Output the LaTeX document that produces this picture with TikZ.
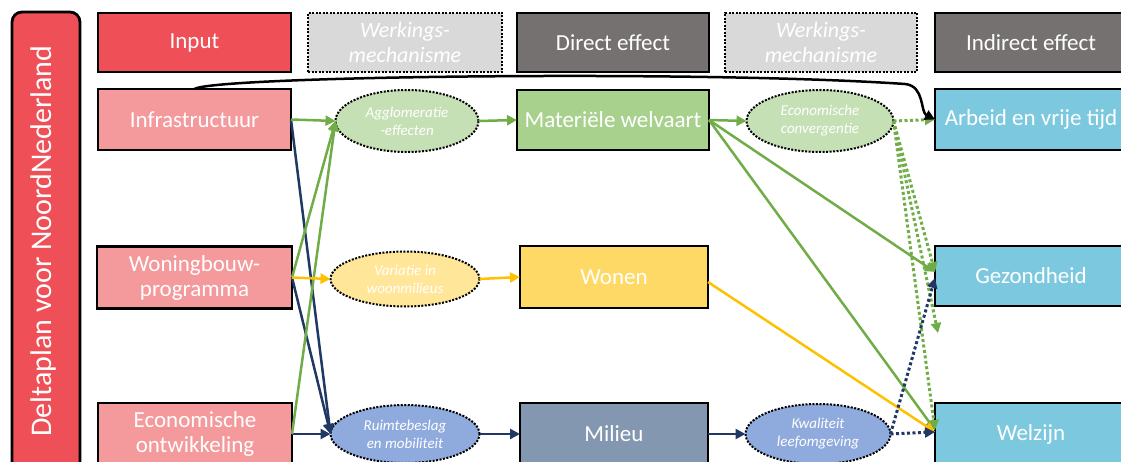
\documentclass[tikz,border=0pt]{standalone}
\usepackage{fontspec}
\setmainfont{Carlito}
\usetikzlibrary{shapes.geometric,arrows.meta}
\definecolor{inred}{HTML}{EF4F57}
\definecolor{inpink}{HTML}{F4999C}
\definecolor{hdrgray}{HTML}{767171}
\definecolor{mechgray}{HTML}{D9D9D9}
\definecolor{matgreen}{HTML}{A9D18E}
\definecolor{aggl}{HTML}{C5E0B4}
\definecolor{wonyel}{HTML}{FFD966}
\definecolor{varyel}{HTML}{FFE699}
\definecolor{milblue}{HTML}{8497B0}
\definecolor{ruimblue}{HTML}{8FAADC}
\definecolor{indblue}{HTML}{7CC9DF}
\definecolor{agreen}{HTML}{70AD47}
\definecolor{ayellow}{HTML}{FFC000}
\definecolor{anavy}{HTML}{203864}
\begin{document}
\begin{tikzpicture}[x=1pt,y=-1pt,
  box/.style={draw=black, line width=2.8pt, rectangle, text=white,
    font=\fontsize{23}{25}\selectfont, align=center, inner sep=0pt, outer sep=0pt},
  hdrmech/.style={box, fill=mechgray, line width=2pt, dash pattern=on 2pt off 1.5pt,
    font=\itshape\fontsize{22}{25}\selectfont},
  mech/.style={ellipse, draw=black, line width=2pt, dash pattern=on 2pt off 1.5pt,
    text=white, font=\itshape\fontsize{15}{18}\selectfont, align=center,
    inner sep=0pt, outer sep=0pt},
  arr/.style={line width=2.5pt, -{Triangle[length=10pt,width=10pt]}},
  garr/.style={arr, draw=agreen},
  yarr/.style={arr, draw=ayellow},
  narr/.style={arr, draw=anavy},
  gdot/.style={garr, line width=3pt, dash pattern=on 3pt off 2.5pt},
  ndot/.style={narr, line width=3pt, dash pattern=on 3pt off 2.5pt},
]
\useasboundingbox (0,0) rectangle (1121,462);
\clip (0,0) rectangle (1121,462);

% sidebar
\node[box, fill=inred, rounded corners=10pt, minimum width=68, minimum height=460] (side) at (46,242) {};
\node[text=white, rotate=90, font=\fontsize{30}{32}\selectfont] (sidetext) at (44,241) {Deltaplan voor NoordNederland};

% headers
\node[box, fill=inred, minimum width=193, minimum height=59] (hinput) at (194.5,42.5) {Input};
\node[hdrmech, minimum width=194, minimum height=59] (hmech1) at (405,42.5) {Werkings-\\mechanisme};
\node[box, fill=hdrgray, minimum width=192, minimum height=59] (hdirect) at (613,42.5) {Direct effect};
\node[hdrmech, minimum width=192, minimum height=59] (hmech2) at (821,42.5) {Werkings-\\mechanisme};
\node[box, fill=hdrgray, minimum width=192, minimum height=59] (hindirect) at (1031,42.5) {Indirect effect};

% input boxes
\node[box, fill=inpink, minimum width=193, minimum height=61] (infra) at (194.5,119.5) {Infrastructuur};
\node[box, fill=inpink, minimum width=195, minimum height=62] (woning) at (194.5,277.5) {Woningbouw-\\programma};
\node[box, fill=inpink, minimum width=194, minimum height=62] (econ) at (195,434) {Economische\\ontwikkeling};

% mechanisms 1
\node[mech, fill=aggl, minimum width=143, minimum height=62] (aggl) at (407,121) {Agglomeratie\\-effecten};
\node[mech, fill=varyel, minimum width=149, minimum height=55] (var) at (405,279) {Variatie in\\woonmilieus};
\node[mech, fill=ruimblue, minimum width=149, minimum height=58] (ruim) at (405,434) {Ruimtebeslag\\en mobiliteit};

% direct effects
\node[box, fill=matgreen, minimum width=192, minimum height=60] (mat) at (613,120) {Materiële welvaart};
\node[box, fill=wonyel, minimum width=188, minimum height=62] (wonen) at (614,277) {Wonen};
\node[box, fill=milblue, minimum width=188, minimum height=62] (milieu) at (614,434) {Milieu};

% mechanisms 2
\node[mech, fill=aggl, minimum width=147, minimum height=62] (econv) at (820,121) {Economische\\convergentie};
\node[mech, fill=ruimblue, minimum width=145, minimum height=60] (kwal) at (818,434) {Kwaliteit\\leefomgeving};

% indirect effects
\node[box, fill=indblue, minimum width=192, minimum height=61] (arbeid) at (1031,119.5) {Arbeid en vrije tijd};
\node[box, fill=indblue, minimum width=192, minimum height=60] (gez) at (1031,276) {Gezondheid};
\node[box, fill=indblue, minimum width=192, minimum height=62] (welz) at (1031,434) {Welzijn};

\coordinate (freeend) at (938,333);

% navy connectors
\draw[narr] (infra.east) -- (ruim.west);
\draw[narr] (woning.east) -- (ruim.west);
\draw[narr] (econ.east) -- (ruim.west);
\draw[narr] (ruim.east) -- (milieu.west);
\draw[narr] (milieu.east) -- (kwal.west);
% green connectors
\draw[garr] (infra.east) -- (aggl.west);
\draw[garr] (woning.east) -- (aggl.west);
\draw[garr] (econ.east) -- (aggl.west);
\draw[garr] (aggl.east) -- (mat.west);
\draw[garr] (mat.east) -- (econv.west);
\draw[garr] (mat.east) -- ([yshift=4pt]gez.west);
\draw[garr] (mat.east) -- ([yshift=4pt]welz.west);
% yellow connectors
\draw[yarr] (woning.east) -- (var.west);
\draw[yarr] (var.east) -- (wonen.west);
\draw[yarr] ([yshift=-5pt]wonen.east) -- ([yshift=2pt]welz.west);
% green dotted
\draw[gdot] (econv.east) -- (arbeid.west);
\draw[gdot] (econv.east) -- ([yshift=4pt]gez.west);
\draw[gdot] (econv.east) -- (freeend);
\draw[gdot] (econv.east) -- ([yshift=4pt]welz.west);
% navy dotted
\draw[ndot] (kwal.east) -- ([yshift=2pt]welz.west);
\draw[ndot] (kwal.east) -- ([yshift=-2pt]gez.west);
% black curve
\draw[line width=2.5pt, -{Triangle[length=10pt,width=10pt]}] (infra.north) .. controls (215,76) and (700,70) .. (905,84) .. controls (925,86) and (920,112) .. (arbeid.west);
\end{tikzpicture}
\end{document}
